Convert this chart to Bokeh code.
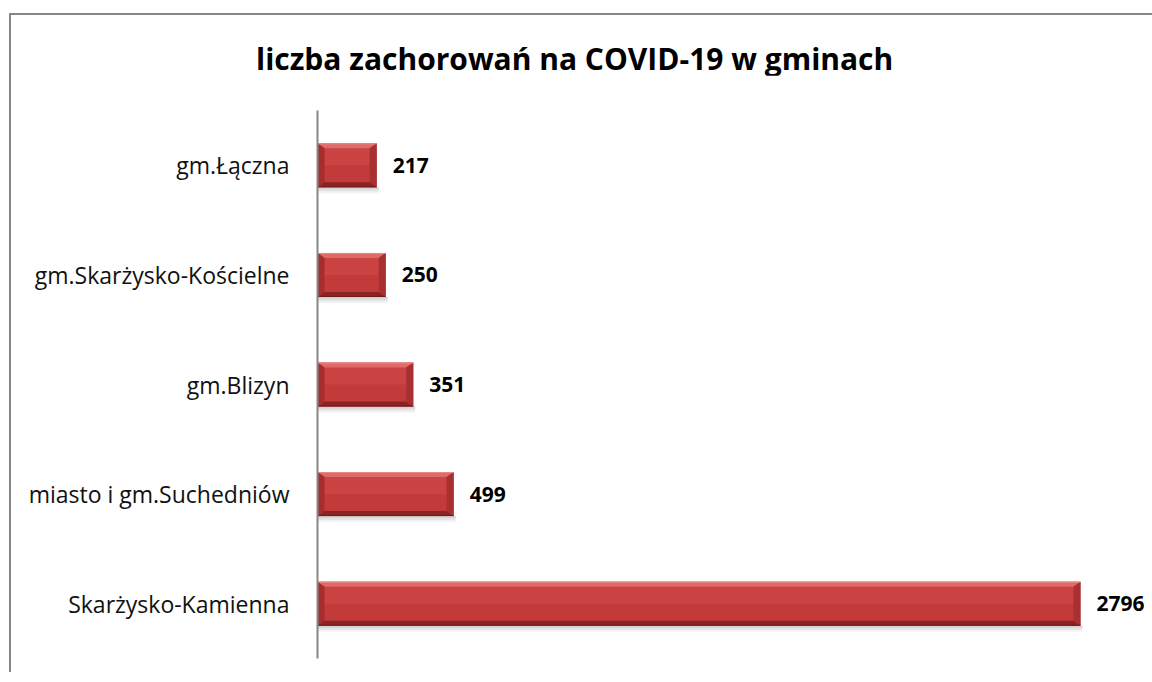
from bokeh.plotting import figure
from bokeh.models import ColumnDataSource, Range1d, Div
from bokeh.layouts import column
from bokeh.core.properties import value
from bokeh.embed import file_html
from bokeh.resources import INLINE

# ---- data ----
categories = ["Skarżysko-Kamienna", "miasto i gm.Suchedniów", "gm.Blizyn",
              "gm.Skarżysko-Kościelne", "gm.Łączna"]
cases = [2796, 499, 351, 250, 217]
title_text = "liczba zachorowań na COVID-19 w gminach"

FONT = "Open Sans"
OX, OY = 11, 15               # page offset of content (margin + border)
W = 1141
DIV_H = 60
ML, MR, MT, MB = 317 - OX, 8, 110 - OY - DIV_H, 14
FH = 548
H = MT + FH + MB
FW = W - ML - MR
X_END = FW * 2796 / 763.0

title_div = Div(
    text=('<div style="padding-left:245px; padding-top:29px; white-space:nowrap; '
          'font-family:\'Open Sans\'; font-weight:bold; font-size:30px; line-height:1; '
          'color:#000000;">' + title_text + '</div>'),
    width=W, height=DIV_H, margin=0)

p = figure(width=W, height=H, output_backend="svg", toolbar_location=None, title=None,
           x_range=Range1d(0, X_END), y_range=Range1d(-0.5, len(categories) - 0.5),
           min_border_left=ML, min_border_right=MR, min_border_top=MT, min_border_bottom=MB)
p.margin = 0
p.outline_line_color = None
p.xaxis.visible = False
p.xgrid.visible = False
p.ygrid.visible = False
p.background_fill_color = "white"
p.border_fill_color = "white"

ys = list(range(len(categories)))
p.yaxis.ticker = ys
p.yaxis.major_label_overrides = {i: c for i, c in enumerate(categories)}
p.yaxis.major_tick_line_color = None
p.yaxis.minor_tick_line_color = None
p.yaxis.axis_line_color = "#878787"
p.yaxis.axis_line_width = 2
p.yaxis.major_label_standoff = 22
p.yaxis.major_label_text_font = FONT
p.yaxis.major_label_text_font_size = "23px"
p.yaxis.major_label_text_color = "#111111"

# px -> data scale
sx = X_END / FW
sy = len(categories) / FH
h = 22 * sy          # half bar height (44 px)
bx = 7 * sx          # bevel widths
by = 5 * sy

src = ColumnDataSource(dict(y=ys, v=cases, lbl=[str(c) for c in cases]))
# shadow
for k, a in [(6, 0.05), (4, 0.06), (2, 0.07)]:
    p.quad(left=0, right=[v + 2 * sx for v in cases], top=[y - h for y in ys],
           bottom=[y - h - k * sy for y in ys], fill_color="black", fill_alpha=a, line_color=None)

# main face (lower darker, upper lighter)
p.quad(left=0, right=cases, top=[y + h for y in ys], bottom=[y - h for y in ys],
       fill_color="#c23a3a", line_color=None)
p.quad(left=[bx] * len(ys), right=[v - bx for v in cases], top=[y + h - by for y in ys],
       bottom=[y for y in ys], fill_color="#cb4343", line_color=None)

top_xs, top_ys, bot_xs, bot_ys, lef_xs, lef_ys, rig_xs, rig_ys = [], [], [], [], [], [], [], []
for y, v in zip(ys, cases):
    top_xs.append([0, v, v - bx, bx]); top_ys.append([y + h, y + h, y + h - by, y + h - by])
    bot_xs.append([0, v, v - bx, bx]); bot_ys.append([y - h, y - h, y - h + by, y - h + by])
    lef_xs.append([0, bx, bx, 0]); lef_ys.append([y + h, y + h - by, y - h + by, y - h])
    rig_xs.append([v, v - bx, v - bx, v]); rig_ys.append([y + h, y + h - by, y - h + by, y - h])
p.patches(top_xs, top_ys, fill_color="#df6a6a", line_color=None)
p.patches(bot_xs, bot_ys, fill_color="#8a2424", line_color=None)
p.patches(lef_xs, lef_ys, fill_color="#a52d2d", line_color=None)
p.patches(rig_xs, rig_ys, fill_color="#a83030", line_color=None)
p.segment(x0=0, x1=cases, y0=[y + h - 0.5 * sy for y in ys], y1=[y + h - 0.5 * sy for y in ys],
          line_color="#ee8a8a", line_width=1)
p.segment(x0=0, x1=cases, y0=[y - h + 0.5 * sy for y in ys], y1=[y - h + 0.5 * sy for y in ys],
          line_color="#6e1a1a", line_width=1)

# value labels
p.text(x="v", y="y", text="lbl", source=src, x_offset=16, text_baseline="middle",
       text_align="left", text_font=value(FONT), text_font_style="bold",
       text_font_size="21px", text_color="#000000")

layout = column(title_div, p, spacing=0, margin=(13, 0, 0, 9),
                styles={"border-top": "2px solid #878787", "border-left": "2px solid #878787",
                        "background-color": "white"})

open("out.html", "w").write(file_html(layout, INLINE))
